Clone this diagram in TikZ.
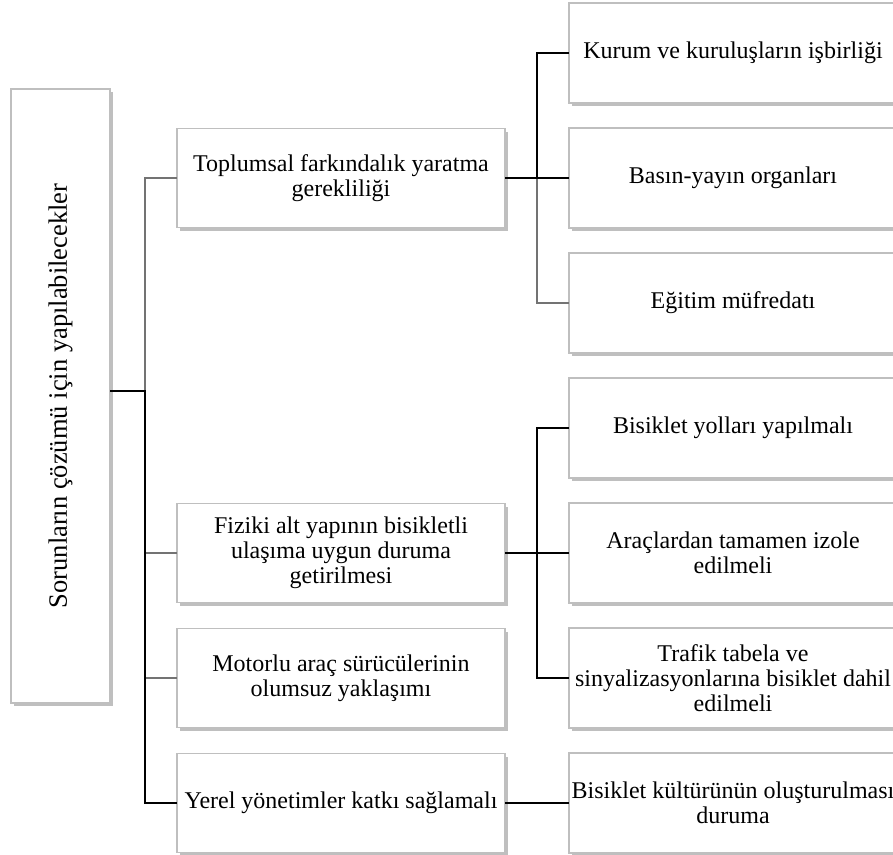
\documentclass[tikz,border=0pt]{standalone}
\usepackage{fontspec}
\setmainfont{Liberation Serif}
\usetikzlibrary{positioning,shadows,calc}

\begin{document}
\begin{tikzpicture}[
      x=1pt,y=-1pt,
      basebox/.style={
         rectangle,
         draw=black!25,
         line width=1.4pt,
         fill=white,
         outer sep=0pt,
         inner sep=2pt,
         align=center,
         font=\fontsize{24}{25}\selectfont,
         drop shadow={shadow xshift=2.5pt,shadow yshift=-3pt,fill=black,opacity=0.25}},
      rootbox/.style={basebox,minimum width=99pt,minimum height=614pt,
         font=\fontsize{26.5}{28}\selectfont},
      lvlbox/.style={basebox,minimum width=328pt,minimum height=99pt},
      leafbox/.style={basebox,minimum width=328pt,minimum height=100pt},
      darkline/.style={black,line width=1.5pt},
      lightline/.style={black!55,line width=1.3pt},
      node distance=25pt and 64pt
      ]
      \path[use as bounding box,clip] (0,0) rectangle (893,854);

      % right column
      \node[leafbox] (kurum) at (733,53) {Kurum ve kuruluşların işbirliği};
      \node[leafbox,below=of kurum] (basin) {Basın-yayın organları};
      \node[leafbox,below=of basin] (egitim) {Eğitim müfredatı};
      \node[leafbox,below=of egitim] (yollar) {Bisiklet yolları yapılmalı};
      \node[leafbox,below=of yollar] (izole) {Araçlardan tamamen izole\\edilmeli};
      \node[leafbox,below=of izole] (tabela) {Trafik tabela ve\\sinyalizasyonlarına bisiklet dahil\\edilmeli};
      \node[leafbox,below=of tabela] (kultur) {Bisiklet kültürünün oluşturulması\\duruma};

      % middle column
      \node[lvlbox,left=of basin] (toplum) {Toplumsal farkındalık yaratma\\gerekliliği};
      \node[lvlbox,left=of izole] (fiziki) {Fiziki alt yapının bisikletli\\ulaşıma uygun duruma\\getirilmesi};
      \node[lvlbox,left=of tabela] (motor) {Motorlu araç sürücülerinin\\olumsuz yaklaşımı};
      \node[lvlbox,left=of kultur] (yerel) {Yerel yönetimler katkı sağlamalı};

      % root
      \node[rootbox] (root) at (60.5,396) {\rotatebox{90}{Sorunların çözümü için yapılabilecekler}};

      % connectors
      \coordinate (hub) at (145,391);
      \coordinate (s1) at ($(toplum.east)!0.5!(basin.west)$);
      \coordinate (s2) at ($(fiziki.east)!0.5!(izole.west)$);

      \draw[lightline] (hub) |- (toplum.west);
      \draw[lightline] (hub |- fiziki.west) -- (fiziki.west);
      \draw[lightline] (hub |- motor.west) -- (motor.west);
      \draw[darkline] (root.east |- hub) -- (hub) |- (yerel.west);

      \draw[lightline] (s1) |- (egitim.west);
      \draw[darkline] (toplum.east) -- (basin.west);
      \draw[darkline] (s1) |- (kurum.west);

      \draw[darkline] (fiziki.east) -- (izole.west);
      \draw[darkline] (s2) |- (yollar.west);
      \draw[darkline] (s2) |- (tabela.west);

      \draw[darkline] (yerel) -- (kultur);

\end{tikzpicture}
\end{document}
